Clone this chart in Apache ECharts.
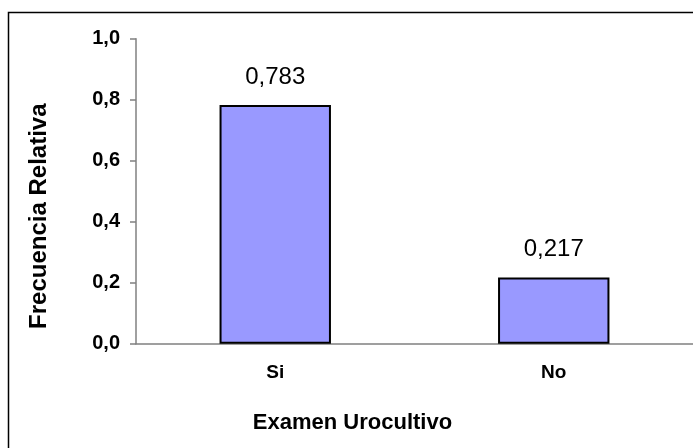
<!DOCTYPE html>
<html>
<head>
<meta charset="utf-8">
<script src="https://cdn.jsdelivr.net/npm/echarts@6/dist/echarts.min.js"></script>
<style>
  html, body { margin: 0; padding: 0; background: #fff; }
  #chart { width: 693px; height: 448px; }
</style>
</head>
<body>
<div id="chart"></div>
<script>
// datos del grafico
var categories = ["Si", "No"];
var frecuencia = [0.783, 0.217];
var yTicks = [0, 0.2, 0.4, 0.6, 0.8, 1.0];

var chart = echarts.init(document.getElementById("chart"));
var fontFam = "Liberation Sans, Arial, sans-serif";

chart.setOption({
  animation: false,
  backgroundColor: "#fff",
  graphic: [
    {
      // marco exterior (se corta a la derecha y abajo)
      type: "rect",
      shape: { x: 8.5, y: 12.5, width: 720, height: 480 },
      style: { fill: "none", stroke: "#000", lineWidth: 1.5 },
      z: 0
    }
  ],
  grid: {
    left: 136,
    top: 38.7,
    width: 560,
    height: 305,
    containLabel: false
  },
  xAxis: {
    type: "category",
    data: categories,
    name: "Examen Urocultivo",
    nameLocation: "middle",
    nameGap: 68,
    nameTextStyle: {
      fontFamily: fontFam,
      fontWeight: "bold",
      fontSize: 22,
      color: "#000",
      padding: [0, 124, 0, 0]
    },
    axisLine: { lineStyle: { color: "#808080", width: 1.5 } },
    axisTick: { show: false },
    axisLabel: {
      margin: 20,
      fontFamily: fontFam,
      fontWeight: "bold",
      fontSize: 19,
      color: "#000"
    }
  },
  yAxis: {
    type: "value",
    min: yTicks[0],
    max: yTicks[yTicks.length - 1],
    interval: 0.2,
    name: "Frecuencia Relativa",
    nameLocation: "middle",
    nameGap: 85,
    nameTextStyle: {
      fontFamily: fontFam,
      fontWeight: "bold",
      fontSize: 24,
      color: "#000",
      padding: [0, 50, 0, 0]
    },
    splitLine: { show: false },
    axisLine: { show: true, lineStyle: { color: "#808080", width: 1.5 } },
    axisTick: { show: true, length: 6, lineStyle: { color: "#808080", width: 1.5 } },
    axisLabel: {
      margin: 16,
      fontFamily: fontFam,
      fontWeight: "bold",
      fontSize: 20,
      color: "#000",
      formatter: function (v) {
        return v.toFixed(1).replace(".", ",");
      }
    }
  },
  series: [
    {
      type: "bar",
      data: frecuencia,
      barWidth: "40%",
      itemStyle: {
        color: "#9999FF",
        borderColor: "#000",
        borderWidth: 2
      },
      label: {
        show: true,
        position: "top",
        distance: 16,
        fontFamily: fontFam,
        fontSize: 24,
        color: "#000",
        formatter: function (p) {
          return p.value.toFixed(3).replace(".", ",");
        }
      }
    }
  ]
});
</script>
</body>
</html>
